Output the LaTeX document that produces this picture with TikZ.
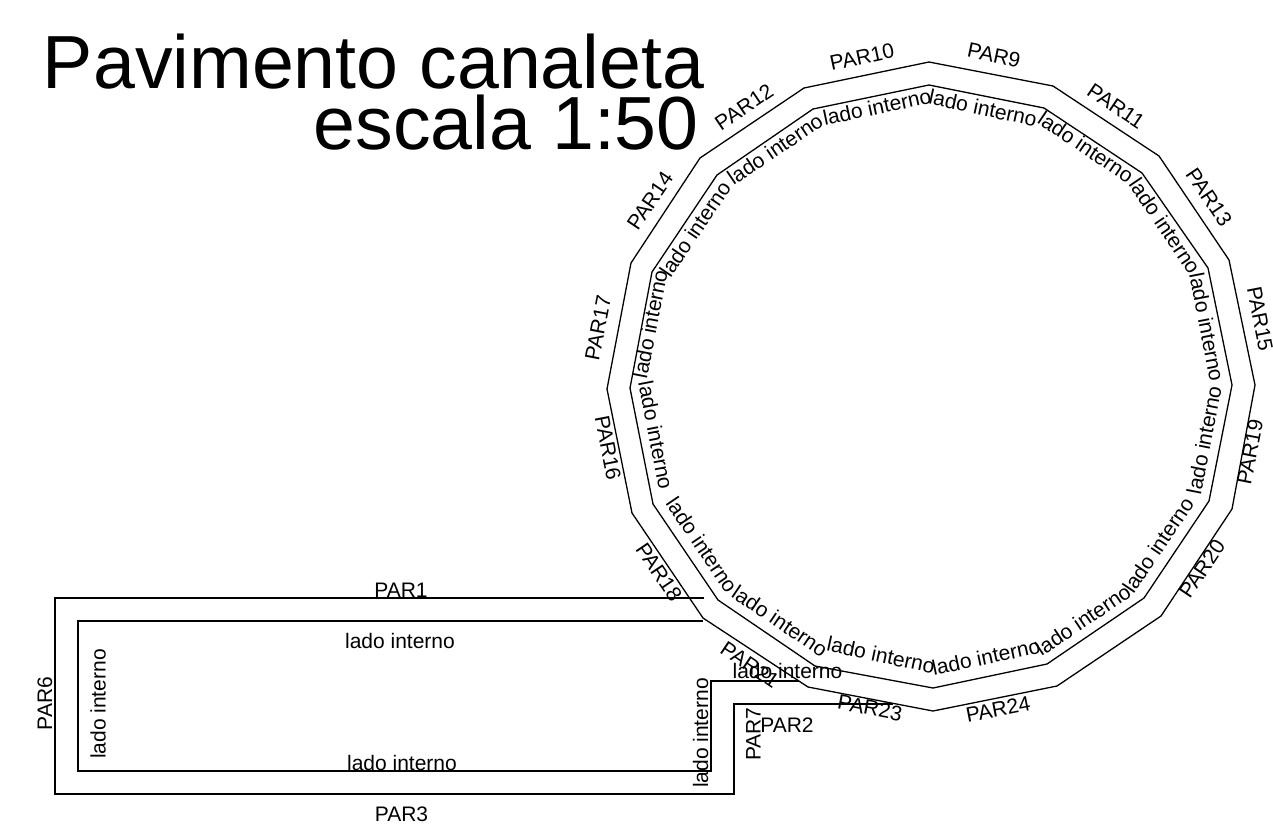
\documentclass[tikz,border=0pt]{standalone}
\usepackage{fontspec}
\setmainfont{Liberation Sans}
\tikzset{
  wall/.style={draw=black,line width=1.3pt,line join=miter},
  lbl/.style={inner sep=0pt,font=\fontsize{21}{24}\selectfont},
  ttl/.style={inner sep=0pt,anchor=base east,font=\fontsize{75.3}{80}\selectfont}
}
\begin{document}
\begin{tikzpicture}[x=1pt,y=-1pt]
\useasboundingbox (0,0) rectangle (1273,828);
% outer ring
\draw[wall] (929,62)--(1053,86)--(1159,156)--(1229,260)--(1255,385)--(1232,509)--(1161,616)--(1057,686)--(933,711)--(808,687)--(703,618)--(632,513)--(607,389)--(631,263)--(700,158)--(804,88)--cycle;
% inner ring
\draw[wall] (929,85)--(1044,108)--(1142,173)--(1208,268)--(1232,385)--(1209,501)--(1144,598)--(1047,664)--(933,688)--(815,666)--(718,600)--(653,504)--(630,388)--(652,272)--(717,175)--(813,109)--cycle;
% channel outer
\draw[wall] (704,598)--(55,598)--(55,794)--(734,794)--(734,704)--(893,704);
% channel inner
\draw[wall] (703,621)--(78,621)--(78,771)--(711,771)--(711,681)--(799,681);
% title
\node[ttl] (t1) at (704.5,88.3) {Pavimento canaleta};
\node[ttl] (t2) at (699,149) {escala 1:50};
% outer labels
\node[lbl,rotate=12] (p10) at (862,57) {PAR10};
\node[lbl,rotate=-12] (p9) at (994,55) {PAR9};
\node[lbl,rotate=34] (p12) at (744,107) {PAR12};
\node[lbl,rotate=-34] (p11) at (1116,106) {PAR11};
\node[lbl,rotate=56] (p14) at (650,201) {PAR14};
\node[lbl,rotate=-56] (p13) at (1209,197) {PAR13};
\node[lbl,rotate=79] (p17) at (598,328) {PAR17};
\node[lbl,rotate=-79] (p15) at (1260,319) {PAR15};
\node[lbl,rotate=-79] (p16) at (608,448) {PAR16};
\node[lbl,rotate=79] (p19) at (1250,452) {PAR19};
\node[lbl,rotate=-56] (p18) at (659,572) {PAR18};
\node[lbl,rotate=56] (p20) at (1202,569) {PAR20};
\node[lbl,rotate=-34] (p21) at (750,665) {PAR21};
\node[lbl,rotate=-11] (p23) at (870,708) {PAR23};
\node[lbl,rotate=11] (p24) at (998,709) {PAR24};
\node[lbl] (p1) at (401,590.5) {PAR1};
\node[lbl] (p3) at (401.5,814.5) {PAR3};
\node[lbl,rotate=90] (p6) at (45,703.5) {PAR6};
\node[lbl,rotate=90] (p7) at (753.5,734) {PAR7};
\node[lbl] (p2) at (787,725.5) {PAR2};
% inner labels
\node[lbl,rotate=12] (i1) at (877,107) {lado interno};
\node[lbl,rotate=-12] (i2) at (983,108) {lado interno};
\node[lbl,rotate=34] (i3) at (775,149) {lado interno};
\node[lbl,rotate=-34] (i4) at (1086,147) {lado interno};
\node[lbl,rotate=56] (i5) at (695,229) {lado interno};
\node[lbl,rotate=-56] (i6) at (1165,226) {lado interno};
\node[lbl,rotate=79] (i7) at (650,324) {lado interno};
\node[lbl,rotate=-79] (i8) at (1207,327) {lado interno};
\node[lbl,rotate=-79] (i9) at (656,435) {lado interno};
\node[lbl,rotate=79] (i10) at (1204,440) {lado interno};
\node[lbl,rotate=-56] (i11) at (702,545) {lado interno};
\node[lbl,rotate=56] (i12) at (1158,545) {lado interno};
\node[lbl,rotate=-34] (i13) at (780,621) {lado interno};
\node[lbl,rotate=34] (i14) at (1083,620) {lado interno};
\node[lbl,rotate=-12] (i15) at (881,655) {lado interno};
\node[lbl,rotate=12] (i16) at (986,657) {lado interno};
\node[lbl] (r1) at (400,640.7) {lado interno};
\node[lbl] (r2) at (402,762.8) {lado interno};
\node[lbl,rotate=90] (r3) at (98,704) {lado interno};
\node[lbl,rotate=90] (r4) at (700.5,733) {lado interno};
\node[lbl] (r5) at (787.5,670.7) {lado interno};
\end{tikzpicture}
\end{document}
